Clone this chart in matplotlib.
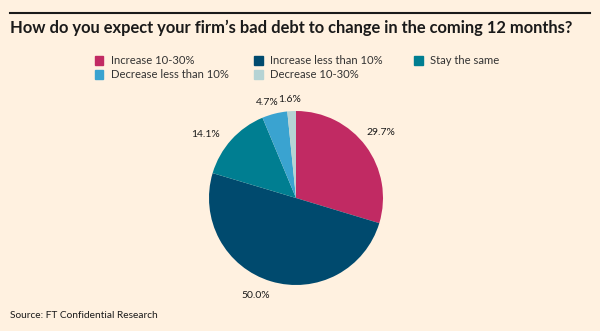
import matplotlib
matplotlib.use("Agg")
import matplotlib.pyplot as plt
import numpy as np
from matplotlib.patches import Rectangle
from matplotlib.lines import Line2D

categories = ["Increase 10-30%", "Increase less than 10%", "Stay the same",
              "Decrease less than 10%", "Decrease 10-30%"]
values = [29.7, 50.0, 14.1, 4.7, 1.6]
labels = ["29.7%", "50.0%", "14.1%", "4.7%", "1.6%"]
colors = ["#C12A63", "#004A6E", "#007E91", "#3AA3D0", "#B5D3D4"]

BG = "#FFF1E0"
W, H = 600, 331
fig = plt.figure(figsize=(6, 3.31), dpi=100, facecolor=BG)
plt.rcParams['font.family'] = ['Lato', 'DejaVu Sans']

def fx(px): return px / W
def fy(py): return 1 - py / H

# top rule
fig.add_artist(Line2D([fx(10), fx(590)], [fy(13), fy(13)], color="#1a1a1a", lw=1.5))
fig.text(fx(10), fy(28), "How do you expect your firm\u2019s bad debt to change in the coming 12 months?",
         fontsize=11.9, fontweight="bold", color="#1a1a1a", va="center", ha="left")

# legend
leg_pos = [(99, 60), (258, 60), (418, 60), (99, 74), (258, 74)]
for (x, y), cat, col in zip(leg_pos, categories, colors):
    s = 9
    fig.add_artist(Rectangle((fx(x - s / 2), fy(y + s / 2)), s / W, s / H, color=col,
                             transform=fig.transFigure))
    fig.text(fx(x + 12), fy(y), cat, fontsize=8.1, color="#333333", va="center", ha="left")

# pie
cx, cy, r = 296, 198, 87
ax = fig.add_axes([fx(cx - r), fy(cy + r), 2 * r / W, 2 * r / H])
ax.set_facecolor(BG)
wedges, _ = ax.pie(values, colors=colors, startangle=90, counterclock=False,
                   wedgeprops=dict(linewidth=0))
ax.set_xlim(-1, 1)
ax.set_ylim(-1, 1)
ax.axis("off")
dists = [1.23, 1.21, 1.27, 1.15, 1.13]
ang_off = [1, -6, 7, 2.5, 1]
for w, lab, d, off in zip(wedges, labels, dists, ang_off):
    ang = np.deg2rad((w.theta1 + w.theta2) / 2 + off)
    ax.text(d * np.cos(ang), d * np.sin(ang), lab, fontsize=7.5, color="#1a1a1a",
            ha="center", va="center", clip_on=False)

fig.text(fx(10), fy(315), "Source: FT Confidential Research", fontsize=7.3, color="#1a1a1a",
         va="center", ha="left")

fig.savefig("out.png", dpi=100, facecolor=BG)
